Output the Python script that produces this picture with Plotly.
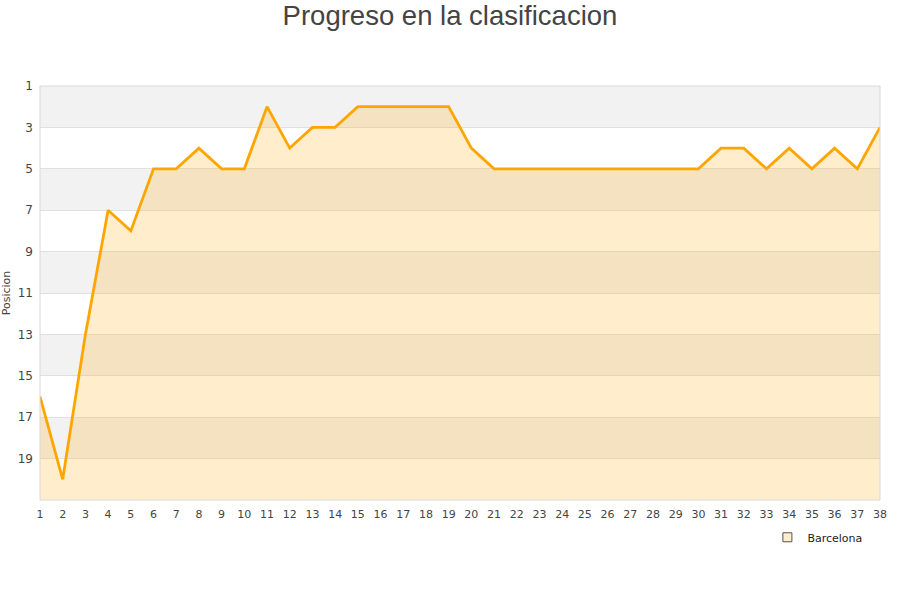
import plotly.graph_objects as go

jornadas = list(range(1, 39))
posiciones = [16, 20, 13, 7, 8, 5, 5, 4, 5, 5, 2, 4, 3, 3, 2, 2, 2, 2, 2, 4,
              5, 5, 5, 5, 5, 5, 5, 5, 5, 5, 4, 4, 5, 4, 5, 4, 5, 3]
y_ticks = [1, 3, 5, 7, 9, 11, 13, 15, 17, 19]
band_starts = [1, 5, 9, 13, 17]
equipo = "Barcelona"
y_min, y_max = 1, 21

fig = go.Figure()

# baseline at bottom of axis for fill
fig.add_trace(go.Scatter(x=jornadas, y=[y_max] * len(jornadas), mode="lines",
                         line=dict(width=0, color="rgba(0,0,0,0)"),
                         showlegend=False, hoverinfo="skip"))
fig.add_trace(go.Scatter(x=jornadas, y=posiciones, mode="lines", name=equipo,
                         line=dict(color="#FFA500", width=2.8),
                         fill="tonexty", fillcolor="rgba(255,165,0,0.2)",
                         showlegend=False))
# legend entry: square swatch
fig.add_trace(go.Scatter(x=[None], y=[None], mode="markers", name=equipo,
                         marker=dict(symbol="square", size=9, color="#FFEDCC",
                                     line=dict(color="#555555", width=1))))

shapes = []
for b in band_starts:
    shapes.append(dict(type="rect", xref="paper", yref="y", x0=0, x1=1, y0=b, y1=b + 2,
                       fillcolor="#f2f2f2", line=dict(width=0), layer="below"))
shapes.append(dict(type="rect", xref="paper", yref="paper", x0=0, x1=1, y0=0, y1=1,
                   line=dict(color="#d8d8d8", width=1), layer="above"))

fig.update_layout(
    width=900, height=600,
    paper_bgcolor="white", plot_bgcolor="white",
    margin=dict(l=40, r=20, t=86, b=100),
    title=dict(text="Progreso en la clasificacion", x=0.5, xanchor="center",
               y=0.975, yanchor="middle",
               font=dict(family="Liberation Sans, Arial", size=27.5, color="#444444")),
    font=dict(family="DejaVu Sans, Verdana", size=11, color="#444444"),
    shapes=shapes,
    showlegend=True,
    legend=dict(x=0.985, xanchor="right", y=-0.055, yanchor="top",
                font=dict(size=11, color="#222222"), bgcolor="rgba(0,0,0,0)",
                itemwidth=30),
)
fig.update_xaxes(range=[1, 38], tickmode="array", tickvals=jornadas,
                 ticktext=[str(j) for j in jornadas], showgrid=False,
                 zeroline=False, showline=False, ticks="", tickfont=dict(size=11),
                 ticklabelstandoff=6, automargin=False)
fig.update_yaxes(range=[y_max, y_min], tickmode="array", tickvals=y_ticks,
                 ticktext=[str(t) for t in y_ticks], showgrid=True,
                 gridcolor="#e0e0e0", gridwidth=1, zeroline=False, showline=False,
                 ticks="", title=dict(text="Posicion", font=dict(size=11), standoff=8),
                 tickfont=dict(size=12), ticklabelstandoff=6, automargin=False)

fig.write_html("out.html", config={"displayModeBar": False},
               post_script="document.body.style.margin='0';")
